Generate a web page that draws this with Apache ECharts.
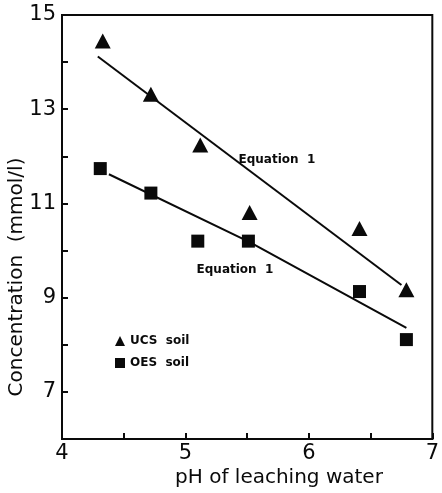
<!DOCTYPE html>
<html>
<head>
<meta charset="utf-8">
<script src="https://cdn.jsdelivr.net/npm/echarts@6/dist/echarts.min.js"></script>
<style>
  html, body { margin: 0; padding: 0; background: #fff; }
  #chart { width: 442px; height: 493px; }
</style>
</head>
<body>
<div id="chart"></div>
<script>
// measured points (pH, concentration mmol/l)
const ucsPH = [4.33, 4.72, 5.12, 5.52, 6.41, 6.79]
const ucsConc = [14.45, 13.32, 12.24, 10.81, 10.47, 9.17]
const oesPH = [4.31, 4.72, 5.10, 5.51, 6.41, 6.79]
const oesConc = [11.74, 11.22, 10.2, 10.2, 9.13, 8.11]

// fitted curves ("Equation 1")
const ucsFitPH = [4.29, 6.75]
const ucsFitConc = [14.12, 9.27]
const oesFitPH = [4.38, 5.52, 6.79]
const oesFitConc = [11.62, 10.18, 8.36]

// where the two "Equation 1" labels sit
const eqLabelPH = [5.43, 5.09]
const eqLabelConc = [11.92, 9.6]

const xTicks = [4, 5, 6, 7]
const yTicks = [7, 9, 11, 13, 15]

const pairs = (xs, ys) => xs.map((x, i) => [x, ys[i]])

const FONT = 'DejaVu Sans'
const INK = '#0a0a0a'
const chart = echarts.init(document.getElementById('chart'))

const option = {
  animation: false,
  backgroundColor: '#fff',
  grid: {
    left: 62, right: 6, top: 15, bottom: 54,
    show: true,
    borderColor: INK,
    borderWidth: 2
  },
  legend: {
    orient: 'vertical',
    left: 110,
    top: 330,
    itemGap: 10,
    itemWidth: 10,
    itemHeight: 10,
    textStyle: { fontFamily: FONT, fontSize: 12, fontWeight: 'bold', color: INK },
    data: [
      { name: 'UCS  soil', icon: 'triangle' },
      { name: 'OES  soil', icon: 'rect' }
    ]
  },
  xAxis: {
    type: 'value',
    min: 4, max: 7, interval: 0.5,
    splitLine: { show: false },
    axisLine: { lineStyle: { color: INK, width: 2 } },
    axisTick: { inside: true, length: 6, lineStyle: { color: INK, width: 2 } },
    axisLabel: {
      margin: 4,
      color: INK,
      fontFamily: FONT,
      fontSize: 21,
      formatter: v => (xTicks.includes(v) ? String(v) : '')
    }
  },
  yAxis: {
    type: 'value',
    min: 6, max: 15, interval: 1,
    splitLine: { show: false },
    axisLine: { show: true, lineStyle: { color: INK, width: 2 } },
    axisTick: { show: true, inside: true, length: 6, lineStyle: { color: INK, width: 2 } },
    axisLabel: {
      margin: 6,
      color: INK,
      fontFamily: FONT,
      fontSize: 21,
      formatter: v => (yTicks.includes(v) ? String(v) : '')
    }
  },
  graphic: [
    {
      type: 'text', x: 17, y: 277, rotation: Math.PI / 2,
      style: {
        text: 'Concentration  (mmol/l)',
        fontFamily: FONT, fontSize: 20, fill: INK,
        textAlign: 'center', textVerticalAlign: 'middle'
      }
    },
    {
      type: 'text', x: 279, y: 478,
      style: {
        text: 'pH of leaching water',
        fontFamily: FONT, fontSize: 20, fill: INK,
        textAlign: 'center', textVerticalAlign: 'middle'
      }
    }
  ],
  series: [
    {
      name: 'UCS fit', type: 'line', data: pairs(ucsFitPH, ucsFitConc),
      showSymbol: false, lineStyle: { color: INK, width: 2 }, z: 2
    },
    {
      name: 'OES fit', type: 'line', data: pairs(oesFitPH, oesFitConc),
      showSymbol: false, lineStyle: { color: INK, width: 2 }, z: 2
    },
    {
      name: 'UCS  soil', type: 'scatter', data: pairs(ucsPH, ucsConc),
      symbol: 'triangle', symbolSize: [16, 15],
      itemStyle: { color: INK, opacity: 1 }, z: 3
    },
    {
      name: 'OES  soil', type: 'scatter', data: pairs(oesPH, oesConc),
      symbol: 'rect', symbolSize: 13,
      itemStyle: { color: INK, opacity: 1 }, z: 3
    },
    {
      name: 'labels', type: 'scatter', data: pairs(eqLabelPH, eqLabelConc),
      symbolSize: 0, silent: true,
      itemStyle: { opacity: 1 },
      label: {
        show: true, position: 'right', distance: 0,
        formatter: 'Equation  1',
        fontFamily: FONT, fontSize: 12, fontWeight: 'bold', color: INK
      }
    }
  ]
}

chart.setOption(option)
</script>
</body>
</html>
